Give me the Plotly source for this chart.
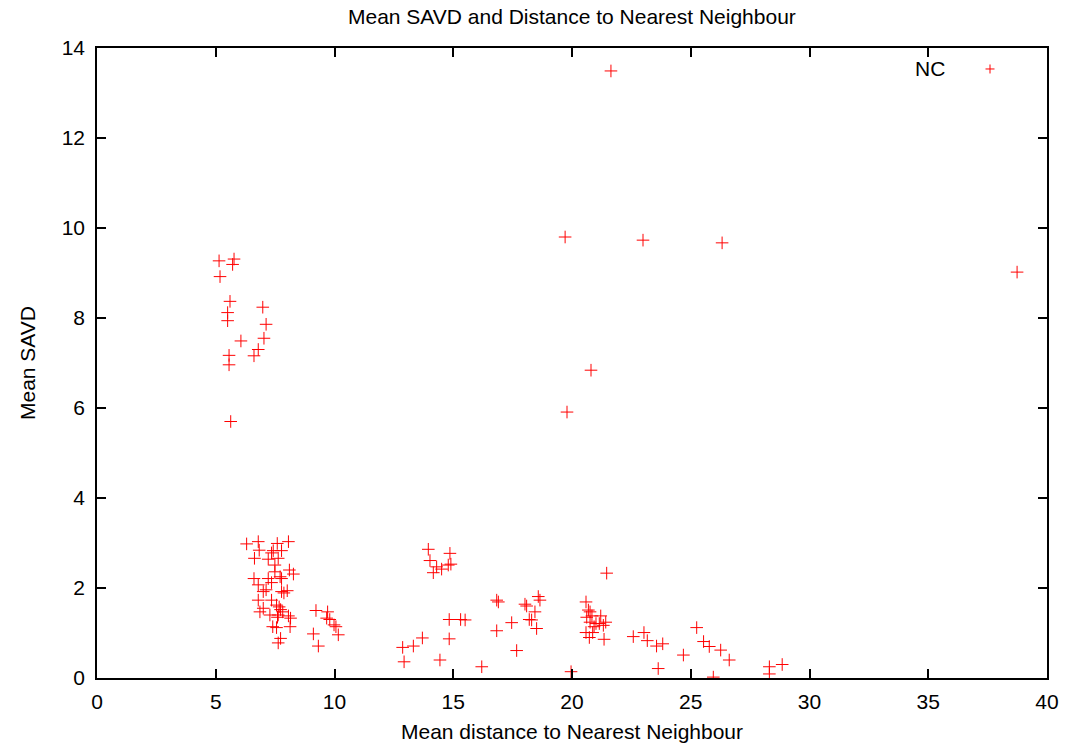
import plotly.graph_objects as go

# Mean distance to nearest neighbour (x) and mean SAVD (y) for the NC set
mean_dist = [
    # high-SAVD group at short distances
    5.14, 5.77, 5.71, 5.18, 5.60, 6.98, 5.50, 5.50, 7.12, 7.03, 6.06, 6.79, 6.61, 5.56, 5.56, 5.63,
    # dense group around 6-8
    6.30, 6.79, 6.83, 7.59, 8.06, 7.42, 7.77, 7.35, 6.63, 7.21, 7.63, 7.49, 7.49, 8.10, 8.27,
    6.61, 7.21, 7.71, 7.77, 7.35, 6.79, 7.00, 7.12, 7.77, 8.01, 7.87, 6.79, 7.35, 7.00, 7.56,
    7.67, 7.73, 6.86, 7.28, 7.82, 7.63, 8.06, 8.15, 7.60, 7.40, 7.56, 8.13, 7.73, 7.63,
    # group around 9-10
    9.22, 9.71, 9.67, 9.80, 9.98, 10.06, 9.11, 10.16, 9.32,
    # group around 13-16
    13.95, 14.86, 14.02, 14.30, 14.51, 14.16, 14.79, 14.90, 14.83, 15.31, 15.50, 14.83,
    13.70, 13.32, 12.87, 12.93, 14.44, 16.20,
    # group around 17-20
    16.83, 16.90, 16.83, 17.46, 17.67, 18.02, 18.09, 18.20, 18.30, 18.44, 18.51, 18.58,
    18.65, 19.96,
    # group around 20-21
    20.59, 20.69, 20.76, 20.62, 20.84, 21.21, 20.76, 21.01, 21.15, 21.42, 21.32, 20.93,
    20.59, 20.87, 20.73, 21.35, 21.46,
    # sparse tail 22-29
    22.58, 23.03, 23.17, 23.56, 23.82, 23.63, 24.69, 25.25, 25.54, 25.78, 26.26, 26.62,
    25.95, 28.31, 28.31, 28.85,
    # outliers
    21.64, 19.71, 22.99, 26.32, 38.74, 20.80, 19.79,
]

mean_savd = [
    9.27, 9.31, 9.19, 8.92, 8.37, 8.24, 8.12, 7.94, 7.86, 7.55, 7.49, 7.30, 7.16, 7.17, 6.96, 5.70,
    2.98, 3.03, 2.84, 2.99, 3.03, 2.83, 2.83, 2.78, 2.66, 2.64, 2.66, 2.51, 2.36, 2.40, 2.31,
    2.21, 2.21, 2.25, 2.21, 2.12, 2.07, 1.92, 1.96, 1.92, 1.94, 1.89, 1.73, 1.73, 1.55, 1.62,
    1.58, 1.52, 1.47, 1.40, 1.47, 1.40, 1.38, 1.33, 1.35, 1.14, 1.12, 1.14, 0.88, 0.78,
    1.50, 1.47, 1.33, 1.30, 1.18, 1.14, 0.98, 0.96, 0.71,
    2.86, 2.77, 2.61, 2.47, 2.42, 2.34, 2.51, 2.53, 1.30, 1.30, 1.29, 0.87,
    0.89, 0.71, 0.68, 0.36, 0.40, 0.25,
    1.73, 1.69, 1.05, 1.23, 0.61, 1.64, 1.60, 1.30, 1.29, 1.47, 1.10, 1.81,
    1.73, 0.14,
    1.69, 1.51, 1.47, 1.35, 1.38, 1.38, 1.24, 1.21, 1.21, 1.24, 1.17, 1.14,
    1.01, 1.01, 0.90, 0.86, 2.33,
    0.92, 1.01, 0.83, 0.71, 0.76, 0.21, 0.51, 1.12, 0.81, 0.70, 0.62, 0.40,
    0.02, 0.25, 0.09, 0.30,
    13.49, 9.80, 9.73, 9.67, 9.02, 6.84, 5.91,
]

series_name = "NC"
x_title = "Mean distance to Nearest Neighbour"
y_title = "Mean SAVD"
x_ticks = [0, 5, 10, 15, 20, 25, 30, 35, 40]
y_ticks = [0, 2, 4, 6, 8, 10, 12, 14]

FONT = "Liberation Sans, Arial, sans-serif"
RED = "#ff0000"
W, H = 1065, 744
ML, MR, MT, MB = 97, 18, 48, 66

fig = go.Figure()
fig.add_trace(go.Scatter(
    x=mean_dist, y=mean_savd, mode="markers", name=series_name,
    marker=dict(symbol="cross-thin", size=9, line=dict(color=RED, width=1), color=RED),
    showlegend=False,
))

axis_common = dict(
    showline=True, linecolor="black", linewidth=1.5, mirror="ticks",
    ticks="inside", ticklen=9, tickwidth=1.5, tickcolor="black",
    showgrid=False, zeroline=False, automargin=False,
    tickfont=dict(family=FONT, size=21, color="black"),
)

fig.update_layout(
    width=W, height=H,
    margin=dict(l=ML, r=MR, t=MT, b=MB, autoexpand=False),
    paper_bgcolor="white", plot_bgcolor="white",
    font=dict(family=FONT, size=21, color="black"),
    title=dict(text="Mean SAVD and Distance to Nearest Neighbour",
               x=0.537, xanchor="center", y=0.977, yanchor="middle",
               font=dict(family=FONT, size=21, color="black")),
    xaxis=dict(range=[0, 40], tickvals=x_ticks, ticklabelstandoff=4, **axis_common),
    yaxis=dict(range=[0, 14], tickvals=y_ticks, ticklabelstandoff=6, **axis_common),
)

# Axis titles, placed in paper space relative to the plotting frame
pw, ph = W - ML - MR, H - MT - MB
fig.add_annotation(text=x_title, xref="paper", yref="paper",
                   x=0.5, y=-(731 - (H - MB)) / ph, xanchor="center", yanchor="middle",
                   showarrow=False, font=dict(family=FONT, size=21, color="black"))
fig.add_annotation(text=y_title, xref="paper", yref="paper", textangle=-90,
                   x=-(ML - 27) / pw, y=0.5, xanchor="center", yanchor="middle",
                   showarrow=False, font=dict(family=FONT, size=21, color="black"))

# Key: label followed by its marker sample, top-right inside the frame
fig.add_annotation(text=series_name, xref="paper", yref="paper",
                   x=0.895, y=0.9667, xanchor="right", yanchor="middle",
                   showarrow=False, font=dict(family=FONT, size=21, color="black"))
key_x, key_y = 0.94, 0.9667
for dx0, dx1, dy0, dy1 in [(-4.5, 4.5, 0, 0), (0, 0, -4.5, 4.5)]:
    fig.add_shape(type="line", xref="paper", yref="paper",
                  xsizemode="pixel", ysizemode="pixel",
                  xanchor=key_x, yanchor=key_y,
                  x0=dx0, x1=dx1, y0=dy0, y1=dy1,
                  line=dict(color=RED, width=1))

fig.write_html("out.html")
